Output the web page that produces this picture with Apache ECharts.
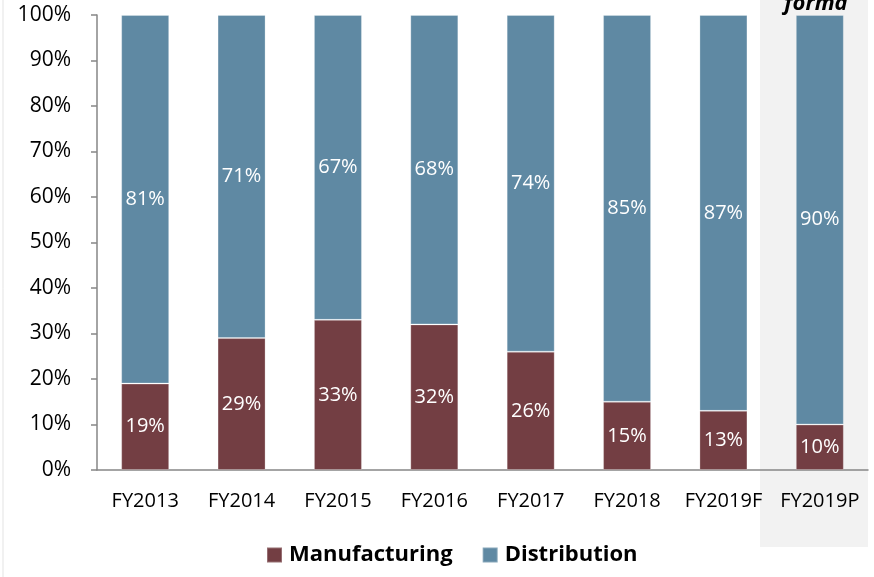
<!DOCTYPE html>
<html>
<head>
<meta charset="utf-8">
<script src="https://cdn.jsdelivr.net/npm/echarts@6/dist/echarts.min.js"></script>
<style>
  html, body { margin: 0; padding: 0; background: #ffffff; }
  #chart { width: 874px; height: 577px; }
</style>
</head>
<body>
<div id="chart"></div>
<script>
// Revenue mix by segment, share of total (%)
const categories = ['FY2013', 'FY2014', 'FY2015', 'FY2016', 'FY2017', 'FY2018', 'FY2019F', 'FY2019P'];
const manufacturing = [19, 29, 33, 32, 26, 15, 13, 10];
const distribution = [81, 71, 67, 68, 74, 85, 87, 90];
const yTicks = [0, 10, 20, 30, 40, 50, 60, 70, 80, 90, 100];

const FONT = '"Open Sans", "Noto Sans", sans-serif';
const chart = echarts.init(document.getElementById('chart'));

const labelStyle = {
  show: true,
  position: 'inside',
  color: '#ffffff',
  fontFamily: FONT,
  fontSize: 20,
  formatter: p => p.value + '%'
};

chart.setOption({
  animation: false,
  backgroundColor: '#ffffff',
  textStyle: { fontFamily: FONT },
  graphic: [
    // shaded pro forma column
    { type: 'rect', z: -10, silent: true,
      shape: { x: 760, y: 0, width: 108, height: 547 },
      style: { fill: '#f2f2f2' } },
    { type: 'text', z: 10, silent: true,
      style: { text: 'forma', x: 816, y: 15, align: 'center', verticalAlign: 'bottom',
               font: 'italic bold 22px ' + FONT, fill: '#000000' } },
    // frame edge
    { type: 'line', silent: true,
      shape: { x1: 3, y1: 0, x2: 3, y2: 577 },
      style: { stroke: '#e3e3e3', lineWidth: 1 } }
  ],
  grid: { left: 97, right: 6, top: 15, height: 455, containLabel: false },
  legend: {
    bottom: 6,
    left: 261,
    icon: 'rect',
    itemWidth: 15,
    itemHeight: 15,
    itemGap: 29,
    textStyle: { fontFamily: FONT, fontSize: 22, fontWeight: 'bold', color: '#000000', padding: [0, 0, 0, 2] },
    data: ['Manufacturing', 'Distribution']
  },
  xAxis: {
    type: 'category',
    data: categories,
    axisLine: { lineStyle: { color: '#868686', width: 1.5 } },
    axisTick: { show: false },
    axisLabel: { color: '#000000', fontSize: 20, fontFamily: FONT, margin: 21, interval: 0 }
  },
  yAxis: {
    type: 'value',
    min: 0,
    max: 100,
    interval: 10,
    axisLine: { show: true, lineStyle: { color: '#868686', width: 1.5 } },
    axisTick: { show: true, length: 6, lineStyle: { color: '#868686', width: 1.5 } },
    splitLine: { show: false },
    axisLabel: {
      color: '#000000', fontSize: 21, fontFamily: FONT, margin: 26,
      formatter: v => (yTicks.includes(v) ? v + '%' : '')
    }
  },
  series: [
    {
      name: 'Manufacturing',
      type: 'bar',
      stack: 'mix',
      barWidth: 48,
      data: manufacturing,
      itemStyle: { color: '#733e43', borderColor: 'rgba(255,255,255,0.25)', borderWidth: 1 },
      label: labelStyle
    },
    {
      name: 'Distribution',
      type: 'bar',
      stack: 'mix',
      barWidth: 48,
      data: distribution,
      itemStyle: { color: '#5f89a3', borderColor: 'rgba(255,255,255,0.25)', borderWidth: 1 },
      label: labelStyle
    }
  ]
});
</script>
</body>
</html>
